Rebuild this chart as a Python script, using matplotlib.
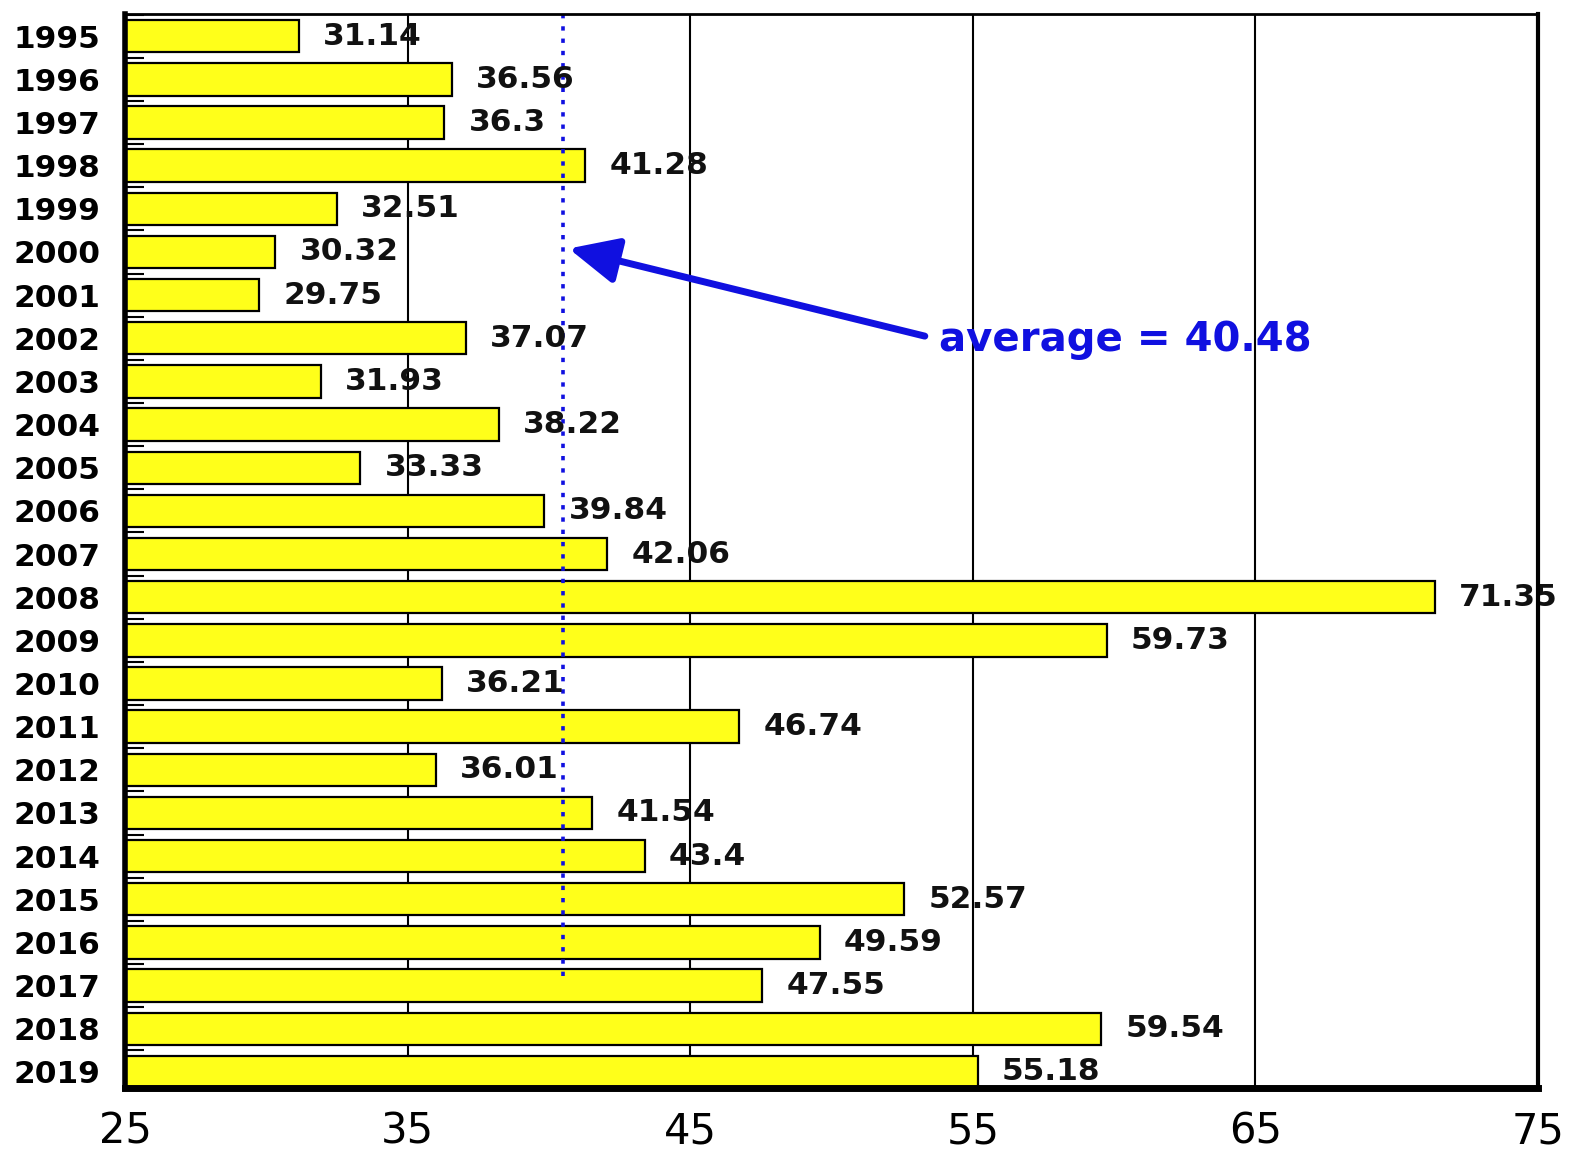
import numpy as np
import matplotlib
matplotlib.use("Agg")
import matplotlib.pyplot as plt
from matplotlib.ticker import FixedLocator

years = ['1995', '1996', '1997', '1998', '1999', '2000', '2001', '2002', '2003',
         '2004', '2005', '2006', '2007', '2008', '2009', '2010', '2011', '2012',
         '2013', '2014', '2015', '2016', '2017', '2018', '2019']
values = [31.14, 36.56, 36.3, 41.28, 32.51, 30.32, 29.75, 37.07, 31.93,
          38.22, 33.33, 39.84, 42.06, 71.35, 59.73, 36.21, 46.74, 36.01,
          41.54, 43.4, 52.57, 49.59, 47.55, 59.54, 55.18]
value_labels = ['31.14', '36.56', '36.3', '41.28', '32.51', '30.32', '29.75',
                '37.07', '31.93', '38.22', '33.33', '39.84', '42.06', '71.35',
                '59.73', '36.21', '46.74', '36.01', '41.54', '43.4', '52.57',
                '49.59', '47.55', '59.54', '55.18']
average = 40.48
x_ticks = [25, 35, 45, 55, 65, 75]

blue = '#1010e0'

fig = plt.figure(figsize=(15.77, 11.57), dpi=100)
ax = fig.add_axes([0.0793, 0.0596, 0.8960, 0.9283])

y = np.arange(len(years))
left = x_ticks[0]
ax.barh(y, np.array(values) - left, left=left, height=0.75,
        color='#ffff1a', edgecolor='black', linewidth=1.6, zorder=2)

for yi, v, lab in zip(y, values, value_labels):
    ax.text(v + 0.85, yi, lab, ha='left', va='center', fontsize=22.5,
            fontweight='bold', color='#111111', zorder=4)

for gx in x_ticks[1:-1]:
    ax.axvline(gx, color='black', linewidth=1.5, zorder=1)

ax.set_xlim(x_ticks[0], x_ticks[-1])
ax.set_ylim(24.375, -0.515)

# dotted average line
ax.vlines(average, -0.515, 21.8, colors=blue, linestyles=(0, (1.2, 2.2)),
          linewidth=2.6, zorder=3)

ax.annotate('', xy=(40.7, 4.92), xytext=(53.3, 6.95),
            arrowprops=dict(arrowstyle='-|>,head_length=3.0,head_width=1.4',
                            color=blue, lw=5, shrinkA=0, shrinkB=0), zorder=5)
ax.text(53.8, 7.05, 'average = %.2f' % average, color=blue, fontsize=29,
        fontweight='bold', ha='left', va='center', zorder=5)

ax.set_xticks(x_ticks)
ax.set_xticklabels([str(t) for t in x_ticks], fontsize=30)
ax.tick_params(axis='x', length=0, pad=16)

ax.set_yticks(y)
ax.set_yticklabels(years, fontsize=22.5, fontweight='bold')
ax.tick_params(axis='y', which='major', length=0, pad=18)
ax.yaxis.set_minor_locator(FixedLocator(np.arange(-0.5, len(years) - 1, 1.0)))
ax.tick_params(axis='y', which='minor', direction='in', length=14, width=1.5,
               left=True)

ax.spines['left'].set_linewidth(4)
ax.spines['bottom'].set_linewidth(5)
ax.spines['top'].set_linewidth(2)
ax.spines['right'].set_linewidth(3)
for s in ax.spines.values():
    s.set_zorder(6)

fig.savefig('out.png', dpi=100)
